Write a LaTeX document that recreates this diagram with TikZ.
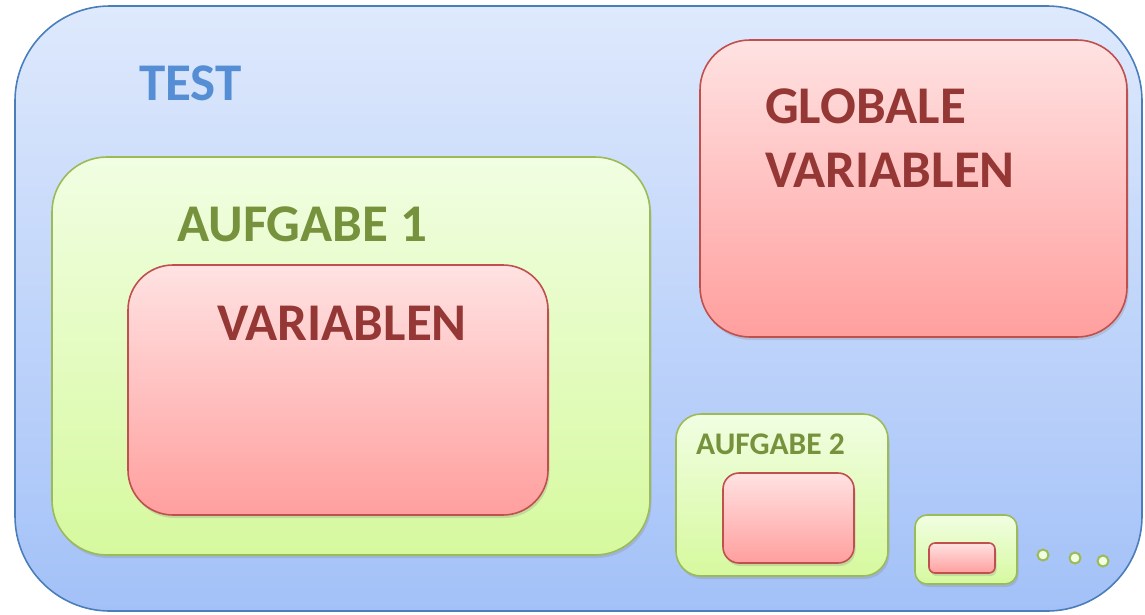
\documentclass[tikz,border=0pt]{standalone}
\usepackage{fontspec}
\setmainfont{Carlito}
\usetikzlibrary{shadows}
\definecolor{bluefillT}{HTML}{DEE9FC}
\definecolor{bluefillB}{HTML}{A3C1F8}
\definecolor{blueline}{HTML}{4A7EBB}
\definecolor{bluetext}{HTML}{558ED5}
\definecolor{greenfillT}{HTML}{F1FEE2}
\definecolor{greenfillB}{HTML}{D6F99E}
\definecolor{greenline}{HTML}{9BBB59}
\definecolor{greentext}{HTML}{76923C}
\definecolor{redfillT}{HTML}{FFE2E2}
\definecolor{redfillB}{HTML}{FF9F9E}
\definecolor{redline}{HTML}{C0504D}
\definecolor{redtext}{HTML}{953735}
\tikzset{
  box/.style={draw, line width=1.6pt, inner sep=0pt, outer sep=0pt},
  outerbox/.style={box, draw=blueline, top color=bluefillT, bottom color=bluefillB},
  taskbox/.style={box, draw=greenline, top color=greenfillT, bottom color=greenfillB,
    drop shadow={shadow xshift=1.5pt, shadow yshift=-3pt, opacity=0.25}},
  varbox/.style={box, draw=redline, top color=redfillT, bottom color=redfillB,
    drop shadow={shadow xshift=1.5pt, shadow yshift=-3pt, opacity=0.25}},
  lbl/.style={anchor=base west, inner sep=0pt, font=\bfseries\fontsize{53}{60}\selectfont},
  smalllbl/.style={anchor=base west, inner sep=0pt, font=\bfseries\fontsize{31.5}{36}\selectfont},
  dot/.style={circle, draw=greenline, fill=greenfillT, line width=2pt, minimum size=11pt, inner sep=0pt},
}
% box from its corners: #1 name, (#2,#3) top left, (#4,#5) bottom right, #6 radius, #7 style
\newcommand{\cornerbox}[7]{%
  \node[#7, rounded corners=#6, minimum width=#4-#2, minimum height=#5-#3]
    (#1) at ({(#2+#4)/2},{(#3+#5)/2}) {};}
\begin{document}
\begin{tikzpicture}[x=1pt, y=-1pt]
  \useasboundingbox (0,0) rectangle (1145,614);
  % test frame
  \cornerbox{test}{15}{6}{1142}{611}{95pt}{outerbox}
  \node[lbl, text=bluetext] (testlbl) at (139,100) {TEST};
  % global variables
  \cornerbox{glob}{700}{40}{1127}{337}{50pt}{varbox}
  \node[lbl, text=redtext] (globlbl1) at (765,123) {GLOBALE};
  \node[lbl, text=redtext] (globlbl2) at (765,187) {VARIABLEN};
  % task 1
  \cornerbox{task1}{52}{157}{650}{555}{55pt}{taskbox}
  \node[lbl, text=greentext] (task1lbl) at (177,241) {AUFGABE 1};
  \cornerbox{var1}{128}{265}{548}{515}{45pt}{varbox}
  \node[lbl, text=redtext] (var1lbl) at (217,340) {VARIABLEN};
  % task 2
  \cornerbox{task2}{676}{414}{888}{576}{25pt}{taskbox}
  \node[smalllbl, text=greentext] (task2lbl) at (696,454) {AUFGABE 2};
  \cornerbox{var2}{723}{473}{854}{563}{16pt}{varbox}
  % task 3
  \cornerbox{task3}{915}{515}{1017}{584}{12pt}{taskbox}
  \cornerbox{var3}{929}{543}{995}{573}{6pt}{varbox}
  % more tasks
  \node[dot] (more1) at (1043,555) {};
  \node[dot] (more2) at (1075,558) {};
  \node[dot] (more3) at (1103,561) {};
\end{tikzpicture}
\end{document}
